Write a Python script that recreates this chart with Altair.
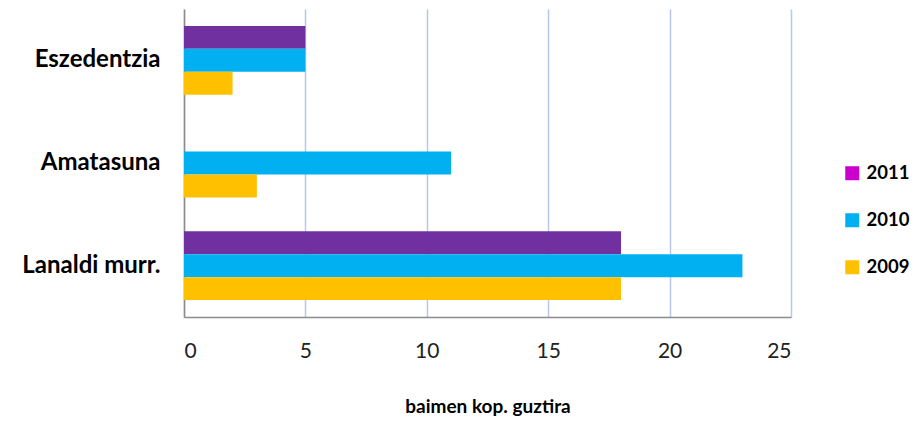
import altair as alt
import pandas as pd

categories = ["Eszedentzia", "Amatasuna", "Lanaldi murr."]
years = ["2011", "2010", "2009"]
v2011 = [5, 0, 18]
v2010 = [5, 11, 23]
v2009 = [2, 3, 18]
bar_colors = ["#7030A0", "#00B0F0", "#FFC000"]
legend_colors = ["#CC00CC", "#00B0F0", "#FFC000"]
x_ticks = [0, 5, 10, 15, 20, 25]

rows = []
for yr, vals in zip(years, [v2011, v2010, v2009]):
    for c, v in zip(categories, vals):
        rows.append({"cat": c, "year": yr, "value": v})
df = pd.DataFrame(rows)

FONT = "Lato"

x_enc = alt.X(
    "value:Q",
    scale=alt.Scale(domain=[0, 25], nice=False, zero=True),
    axis=alt.Axis(
        values=x_ticks,
        title="baimen kop. guztira",
        titleFont=FONT,
        titleFontSize=19,
        titleFontWeight="bold",
        titleColor="#000000",
        titlePadding=36,
        labelFont=FONT,
        labelFontSize=21,
        labelColor="#222222",
        labelPadding=23,
        ticks=False,
        domain=True,
        domainColor="#8C8C8C",
        domainWidth=1.5,
        grid=True,
        gridColor="#B9C8EA",
        gridWidth=1.5,
    ),
)
y_enc = alt.Y(
    "cat:N",
    sort=categories,
    scale=alt.Scale(paddingInner=0.33, paddingOuter=0.165),
    axis=alt.Axis(
        title=None,
        labelFont=FONT,
        labelFontSize=24,
        labelFontWeight="bold",
        labelColor="#000000",
        labelPadding=24,
        ticks=False,
        domain=True,
        domainColor="#8C8C8C",
        domainWidth=1.5,
        grid=False,
    ),
)

bars = alt.Chart(df).mark_bar(stroke=None).encode(
    x=x_enc,
    y=y_enc,
    yOffset=alt.YOffset("year:N", sort=years, scale=alt.Scale(paddingInner=0, paddingOuter=0)),
    color=alt.Color("year:N", scale=alt.Scale(domain=years, range=bar_colors), legend=None),
)

legend_layer = (
    alt.Chart(df)
    .transform_calculate(legyear="datum.year")
    .mark_square(opacity=0)
    .encode(
        x="value:Q",
        y=alt.Y("cat:N", sort=categories),
        fill=alt.Fill(
            "legyear:N",
            scale=alt.Scale(domain=years, range=legend_colors),
            legend=alt.Legend(
                title=None,
                orient="none",
                legendX=659,
                legendY=155,
                padding=0,
                symbolType="square",
                symbolSize=196,
                symbolOpacity=1,
                symbolStrokeWidth=0,
                labelFont=FONT,
                labelFontSize=18.5,
                labelFontWeight="bold",
                labelColor="#000000",
                labelOffset=5,
                rowPadding=28,
            ),
        ),
    )
)

chart = (
    alt.layer(bars, legend_layer)
    .resolve_scale(color="independent", fill="independent")
    .resolve_legend(color="independent", fill="independent")
    .properties(
        width=607,
        height=308,
        autosize=alt.AutoSizeParams(type="none"),
        padding={"left": 176, "top": 1, "right": 121, "bottom": 102},
        background="#FFFFFF",
    )
    .configure_view(stroke=None)
)

chart.save("out.html", embed_options={"renderer": "svg", "actions": False})
